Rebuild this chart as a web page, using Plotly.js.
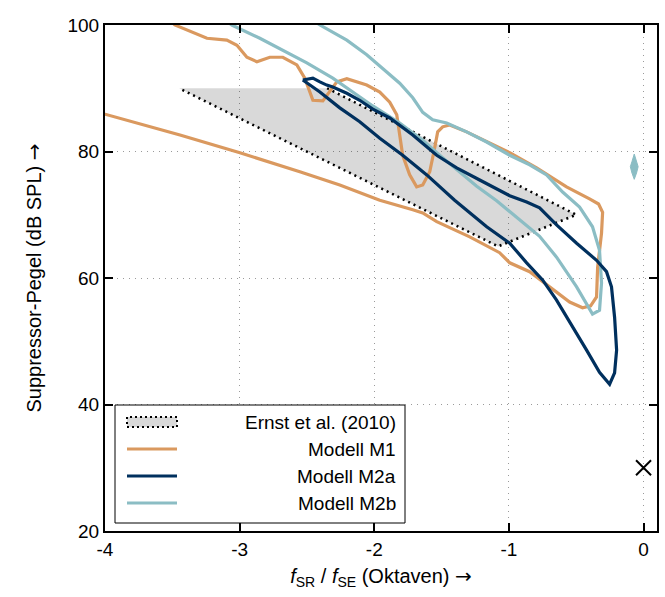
<!DOCTYPE html>
<html>
<head>
<meta charset="utf-8">
<script src="https://cdn.plot.ly/plotly-3.0.1.min.js"></script>
<style>html,body{margin:0;padding:0;background:#fff;}#chart{width:665px;height:597px;}</style>
</head>
<body>
<div id="chart"></div>
<script>
// Ernst et al. (2010) region (fill + dotted outline, top edge without outline)
const ernstX = [-2.35, -0.5, -1.08, -3.45];
const ernstY = [90, 70, 65, 90];

// Modell M1
const m1X = [-3.518,-3.481,-3.243,-3.095,-3.02,-2.946,-2.872,-2.776,-2.679,-2.575,-2.516,-2.456,-2.382,-2.33,-2.278,-2.204,-2.056,-1.959,-1.885,-1.833,-1.789,-1.737,-1.685,-1.64,-1.588,-1.551,-1.529,-1.492,-1.44,-1.314,-1.165,-0.994,-0.794,-0.572,-0.401,-0.334,-0.304,-0.312,-0.341,-0.349,-0.393,-0.453,-0.549,-0.698,-0.846,-0.994,-1.069,-1.291,-1.536,-1.64,-1.714,-1.959,-2.256,-2.553,-2.998,-3.443,-3.74,-4.0,-4.04];
const m1Y = [100.8,100,97.9,97.6,96.8,94.9,94.2,94.9,94.9,93.7,91.6,88.1,88.0,89.4,91.0,91.5,90.5,89.4,87.8,85.8,79.4,76.3,74.4,74.7,76.8,80.6,83.1,83.9,84.2,83.1,81.5,79.8,77.4,74.4,72.5,71.7,70.4,67.1,61.7,57.0,55.6,55.3,56.2,58.6,61.0,62.4,64.0,66.5,68.9,70.3,70.8,72.3,74.7,76.8,79.8,82.6,84.3,85.9,86.2];

// Modell M2a
const m2aX = [-2.531,-2.456,-2.404,-2.353,-2.308,-2.204,-2.108,-2.011,-1.885,-1.714,-1.536,-1.388,-1.217,-0.994,-0.868,-0.772,-0.646,-0.497,-0.349,-0.275,-0.238,-0.215,-0.20,-0.215,-0.252,-0.327,-0.423,-0.527,-0.646,-0.75,-0.868,-0.994,-1.165,-1.403,-1.61,-1.789,-1.959,-2.108,-2.256,-2.404,-2.531];
const m2aY = [91.3,91.6,91.0,90.5,90.2,89.2,88.1,86.7,85.3,82.6,79.4,77.4,75.5,73.0,72.0,71.1,68.4,65.5,62.8,61.0,58.6,53.8,48.6,45.0,43.2,45.1,48.6,52.3,56.5,59.7,62.4,65.5,68.1,72.3,76.3,79.4,82.1,84.7,86.9,89.4,91.3];

// Modell M2b
const m2bX = [-3.109,-3.058,-2.85,-2.649,-2.501,-2.308,-2.182,-2.011,-1.811,-1.64,-1.514,-1.388,-1.239,-1.091,-0.92,-0.772,-0.646,-0.497,-0.379,-0.327,-0.312,-0.327,-0.379,-0.475,-0.601,-0.72,-0.846,-0.994,-1.165,-1.314,-1.462,-1.566,-1.64,-1.714,-1.811,-1.937,-2.056,-2.204,-2.404,-2.456];
const m2bY = [100.8,100,97.9,95.7,94.0,91.6,89.7,87.2,84.5,81.8,79.4,77.1,74.5,72.2,69.2,66.6,63.3,58.6,54.3,54.9,59.2,64.4,68.1,71.2,73.6,76.3,77.9,79.4,81.5,83.1,84.5,85.0,86.2,88.5,90.8,93.2,95.3,97.6,100,100.8];

// small M2b island
const m2bIslandX = [-0.069,-0.052,-0.040,-0.052,-0.069,-0.086,-0.098,-0.086,-0.069];
const m2bIslandY = [79.6,78.4,77.6,76.6,75.6,76.6,77.6,78.4,79.6];

// cross marker
const crossX = [0];
const crossY = [30];

// axes
const xTickVals = [-4, -3, -2, -1, 0];
const xTickText = ['-4', '-3', '-2', '-1', '0'];
const yTickVals = [20, 40, 60, 80, 100];
const yTickText = ['20', '40', '60', '80', '100'];

const legendNames = ['Ernst et al. (2010)', 'Modell M1', 'Modell M2a', 'Modell M2b'];

const cOrange = '#DA995F';
const cNavy = '#00305E';
const cTeal = '#8BBDC4';
const FONT = 'Liberation Sans, Arial, sans-serif';
const ARROW = '<span style="font-family:DejaVu Sans">→</span>';

const traces = [
  {x: ernstX, y: ernstY, type: 'scatter', mode: 'lines', fill: 'toself',
   fillcolor: 'rgba(0,0,0,0.15)', line: {color: '#000', width: 2.5, dash: '2px,4px'},
   name: legendNames[0], showlegend: false, hoverinfo: 'skip'},
  {x: m1X, y: m1Y, type: 'scatter', mode: 'lines', line: {color: cOrange, width: 3.2},
   name: legendNames[1], showlegend: false},
  {x: m2bX, y: m2bY, type: 'scatter', mode: 'lines', line: {color: cTeal, width: 3.2},
   name: legendNames[3], showlegend: false},
  {x: m2aX, y: m2aY, type: 'scatter', mode: 'lines', line: {color: cNavy, width: 3.2},
   name: legendNames[2], showlegend: false},
  {x: m2bIslandX, y: m2bIslandY, type: 'scatter', mode: 'lines', fill: 'toself',
   fillcolor: cTeal, line: {color: cTeal, width: 1}, showlegend: false},
  {x: crossX, y: crossY, type: 'scatter', mode: 'markers',
   marker: {symbol: 'x-thin', size: 15, color: '#000', line: {color: '#000', width: 2}},
   showlegend: false}
];

// custom legend (paper coords)
const plotL = 105, plotW = 552, plotB = 531, plotH = 506;
const px = v => (v - plotL) / plotW;
const py = v => (plotB - v) / plotH;
const rowY = [422, 449, 476, 503];
const shapes = [
  {type: 'rect', xref: 'paper', yref: 'paper', x0: px(115), x1: px(405), y0: py(523), y1: py(405),
   fillcolor: '#fff', line: {color: '#000', width: 1}, layer: 'above'},
  {type: 'rect', xref: 'paper', yref: 'paper', x0: px(127), x1: px(177), y0: py(427), y1: py(417),
   fillcolor: '#d9d9d9', line: {color: '#000', width: 2, dash: '2px,3px'}, layer: 'above'},
  {type: 'line', xref: 'paper', yref: 'paper', x0: px(127), x1: px(177), y0: py(rowY[1]), y1: py(rowY[1]),
   line: {color: cOrange, width: 3}, layer: 'above'},
  {type: 'line', xref: 'paper', yref: 'paper', x0: px(127), x1: px(177), y0: py(rowY[2]), y1: py(rowY[2]),
   line: {color: cNavy, width: 3}, layer: 'above'},
  {type: 'line', xref: 'paper', yref: 'paper', x0: px(127), x1: px(177), y0: py(rowY[3]), y1: py(rowY[3]),
   line: {color: cTeal, width: 3}, layer: 'above'}
];
const annotations = legendNames.map((t, i) => ({
  text: t, xref: 'paper', yref: 'paper', x: px(398), y: py(rowY[i]),
  xanchor: 'right', yanchor: 'middle', showarrow: false,
  font: {family: FONT, size: 19, color: '#000'}
}));

const axisCommon = {
  showline: true, linecolor: '#000', linewidth: 2, mirror: 'ticks',
  ticks: 'inside', ticklen: 8, tickwidth: 2, tickcolor: '#000',
  showgrid: true, gridcolor: '#9a9a9a', gridwidth: 1, griddash: '1px,5px',
  zeroline: false, tickfont: {family: FONT, size: 19, color: '#000'}
};

const layout = {
  width: 665, height: 597,
  margin: {l: 105, r: 8, t: 25, b: 66},
  paper_bgcolor: '#fff', plot_bgcolor: '#fff',
  showlegend: false,
  font: {family: FONT, size: 19, color: '#000'},
  xaxis: Object.assign({}, axisCommon, {
    range: [-4, 0.1], tickmode: 'array', tickvals: xTickVals, ticktext: xTickText,
    title: {text: '<i>f</i><sub>SR</sub> / <i>f</i><sub>SE</sub> (Oktaven) ' + ARROW, font: {family: FONT, size: 20, color: '#000'}, standoff: 10}
  }),
  yaxis: Object.assign({}, axisCommon, {
    range: [20, 100], tickmode: 'array', tickvals: yTickVals, ticktext: yTickText,
    title: {text: 'Suppressor-Pegel (dB SPL) ' + ARROW, font: {family: FONT, size: 20, color: '#000'}, standoff: 20}
  }),
  shapes: shapes,
  annotations: annotations
};

Plotly.newPlot('chart', traces, layout, {displayModeBar: false, staticPlot: true});
</script>
</body>
</html>
